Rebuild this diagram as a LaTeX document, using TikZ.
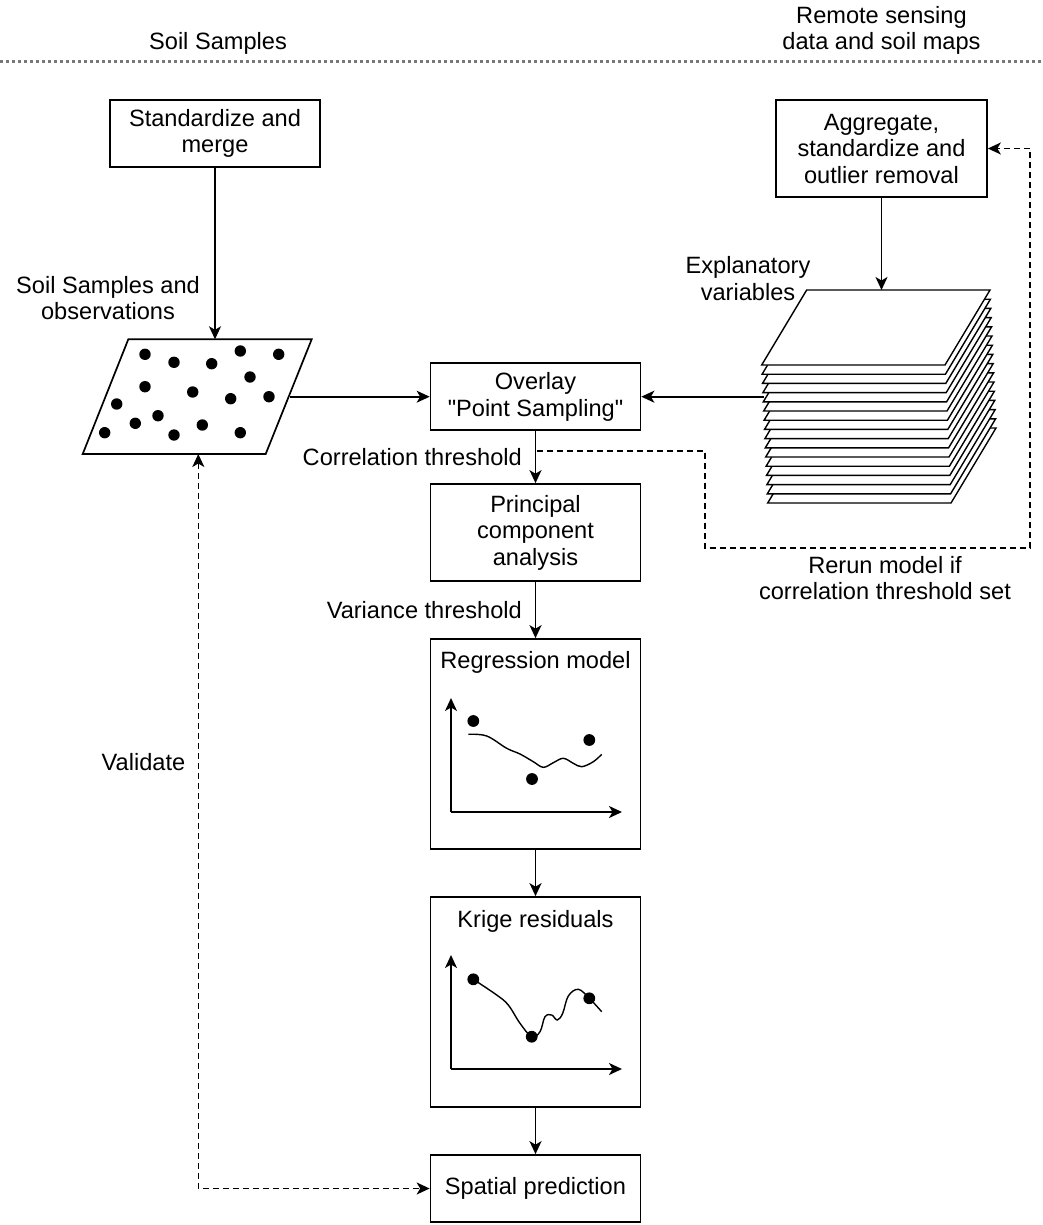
\documentclass[tikz,border=0pt]{standalone}
\usepackage{fontspec}
\setmainfont{Liberation Sans}
\usetikzlibrary{arrows.meta}
\newcommand\fs{\fontsize{23.6}{26.5}\selectfont}
\font\qfnt="Liberation Sans" at 23.6pt
\definecolor{sepgray}{RGB}{120,120,120}
\begin{document}
\begin{tikzpicture}[x=1pt,y=-1pt,
  box/.style={draw, line width=1.7pt, fill=white, align=center, font=\fs, minimum width=210pt, inner sep=0pt},
  lbl/.style={align=center, font=\fs, inner sep=0pt},
  tip/.style={-{Stealth[length=13pt,width=12pt,inset=3.5pt]}},
  arr/.style={line width=1.7pt, tip},
  darr/.style={arr, dash pattern=on 6pt off 4pt},
  dboth/.style={line width=1.6pt, dash pattern=on 6pt off 4pt, {Stealth[length=13pt,width=12pt,inset=3.5pt]}-{Stealth[length=13pt,width=12pt,inset=3.5pt]}},
  sheet/.style={draw, line width=1.4pt, fill=white, line join=miter},
  curve/.style={line width=1.4pt},
]
\useasboundingbox (0,0) rectangle (1042,1225);

% header
\node[lbl] (hl) at (218,43) {Soil Samples};
\node[lbl] (hr) at (881.5,30.5) {Remote sensing\\data and soil maps};
\coordinate (sepl) at (0,62);
\coordinate (sepr) at (1042,62);
\draw[sepgray, line width=3pt, dash pattern=on 3pt off 3pt] (sepl) -- (sepr);

% boxes
\node[box, minimum height=67pt] (std) at (215,133.3) {Standardize and\\merge};
\node[box, minimum width=211pt, minimum height=97pt] (agg) at (881.5,148.5) {Aggregate,\\standardize and\\outlier removal};
\node[box, minimum height=67pt] (ov) at (535.5,396.7) {Overlay\\{\qfnt\char34}Point Sampling{\qfnt\char34}};
\node[box, minimum height=97pt] (pca) at (535.5,532.5) {Principal\\component\\analysis};
\node[box, minimum height=210pt] (reg) at (535.5,744) {};
\node[box, minimum height=210pt] (kr) at (535.5,1002) {};
\node[box, minimum height=67pt] (sp) at (535.5,1188.5) {Spatial prediction};
\node[lbl] (regt) at (535.5,662) {Regression model};
\node[lbl] (krt) at (535.5,921) {Krige residuals};

% labels
\node[lbl] (ssobs) at (108,298) {Soil Samples and\\observations};
\node[lbl] (expl) at (748,278.5) {Explanatory\\variables};
\node[lbl, anchor=east] (corr) at (522,456.7) {Correlation threshold};
\node[lbl, anchor=east] (var) at (522,610) {Variance threshold};
\node[lbl] (rerun) at (885,578) {Rerun model if\\correlation threshold set};
\node[lbl] (val) at (143.5,762) {Validate};

% parallelogram of soil samples
\draw[line width=1.7pt, fill=white] (128.3,339.3) -- (311.7,339.3) -- (265.7,454) -- (82.7,454) -- cycle;
\foreach \p in {(145,354.3),(174,362.3),(211.7,363.7),(240.3,351),(278.7,354.3),(250,377),(145,386.7),(192.7,392),(230.7,398.7),(269,396.7),(116.7,404),(135.3,423.3),(158,415.7),(202.3,425),(104.7,432.7),(174,435),(240.3,432.7)}
  \fill \p circle (5.7pt);
\coordinate (pt) at (215,339.3);
\coordinate (pr) at (290,396.7);
\coordinate (pb) at (198.3,454);

% stack of explanatory variables
\foreach \k in {15,14,...,0}
  \draw[sheet, shift={(0.4*\k,9.2*\k)}] (806.7,290) -- (990,290) -- (945,365) -- (761.7,365) -- cycle;
\coordinate (stt) at (881.5,290);
\coordinate (stl) at (764,396.7);

% regression plot
\coordinate (ro) at (451,812);
\coordinate (ry) at (451,698);
\coordinate (rx) at (622,812);
\draw[arr] (ro) -- (ry);
\draw[arr] (ro) -- (rx);
\draw[curve] plot[smooth, tension=0.6] coordinates {(468.3,734.3) (486.7,736) (506.7,748.3) (520,754) (533.3,761.7) (543.3,767.3) (553.3,762.7) (563.3,758.3) (573.3,763.3) (581.7,766.7) (593.3,761.7) (601.7,754.3)};
\fill (473.3,721) circle (5.9pt);
\fill (532,779) circle (5.9pt);
\fill (589.3,740) circle (5.9pt);

% krige plot
\coordinate (ko) at (451,1069);
\coordinate (ky) at (451,955);
\coordinate (kx) at (622,1069);
\draw[arr] (ko) -- (ky);
\draw[arr] (ko) -- (kx);
\draw[curve] plot[smooth, tension=0.6] coordinates {(473.3,979.3) (496.7,995) (508.3,1005) (520,1023.3) (531.7,1036.7) (540,1031.7) (545,1016.7) (551.7,1015) (557.3,1020) (562.7,1013.3) (568.3,996) (578.3,989.3) (589.3,998.3) (601.7,1011.7)};
\fill (473.3,979.3) circle (5.9pt);
\fill (531.7,1036.7) circle (5.9pt);
\fill (589.3,998.3) circle (5.9pt);

% connectors
\draw[arr] (std.south) -- (pt);
\draw[arr] (pr) -- (ov.west);
\draw[arr] (agg.south) -- (stt);
\draw[arr] (stl) -- (ov.east);
\draw[arr] (ov.south) -- (pca.north);
\draw[arr] (pca.south) -- (reg.north);
\draw[arr] (reg.south) -- (kr.north);
\draw[arr] (kr.south) -- (sp.north);

\coordinate (cth) at (537,450.7);
\draw[darr, line width=1.6pt] (cth) -- (705,450.7) -- (705,548) -- (1030,548) -- (1030,148.5) -- (agg.east);
\draw[dboth] (pb) -- (198.3,1188.5) -- (sp.west);
\end{tikzpicture}
\end{document}
